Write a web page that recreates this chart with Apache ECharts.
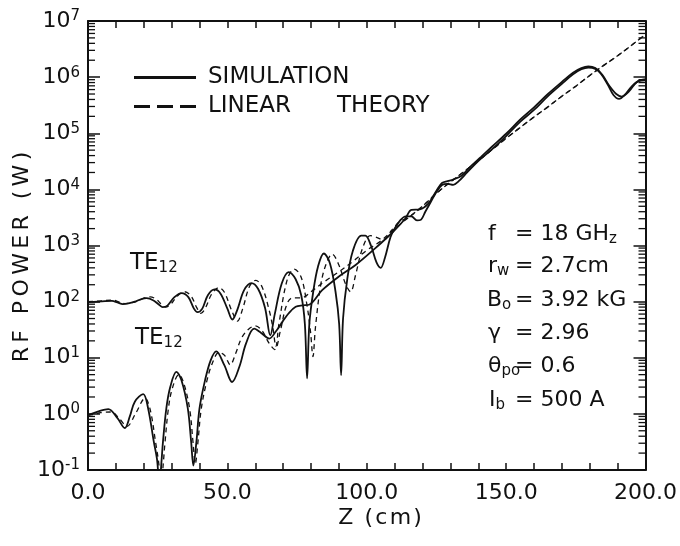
<!DOCTYPE html>
<html>
<head>
<meta charset="utf-8">
<script src="https://cdn.jsdelivr.net/npm/echarts@6/dist/echarts.min.js"></script>
<style>
  html, body { margin: 0; padding: 0; background: #fff; }
  #chart { width: 680px; height: 546px; }
</style>
</head>
<body>
<div id="chart"></div>
<script>
// TE12 launched at ~100 W : simulation
const zSimUpper = [0,2,5,8.6,10.5,12.5,14.5,16.8,19,21,23.5,25.5,26.8,28.5,31,33.6,36,38,39.3,41,43,45.4,47.5,50,51.8,53.5,56,58.6,61,63.5,65.4,67,69.5,72,74.5,76.5,77.8,78.6,79.4,80.8,82.5,84.6,86.8,88.8,90.1,90.8,91.5,93,95,98,99.5,101.5,103.5,105,106.5,108.5,110,112,114,116,118,119.5,121,123,125,127,129,131,133,136,140,145,150,155,160,165,170,174,177,179.5,182,184,186.5,188.5,190.5,192.5,195,197.5,200];
const pSimUpper = [98,99,101,103,97,90,93,100,110,115,105,88,80,85,120,142,120,75,65,75,130,165,140,75,48,70,160,214,170,78,25,60,210,336,250,130,40,4.3,40,150,420,720,480,150,40,4.9,50,250,800,1500,1500,1000,500,400,600,1400,2000,2800,3300,3300,2800,2900,4000,6000,9000,12000,12500,12000,14000,20000,32000,52000,89000,160000,260000,460000,760000,1120000,1380000,1480000,1400000,1150000,730000,480000,410000,480000,680000,850000,880000];

// TE12 launched at ~1 W : simulation
const zSimLower = [0,3.5,7.3,10.5,13.2,15,16.8,19.8,21.5,23.6,24.8,25.6,26.4,26.9,28.1,29.5,31.7,33.5,35.8,37,37.8,38.9,40,42,44,46,48.9,51.7,54.3,56.7,59.6,62,65,67.5,69.8,72,74.5,77,79.3,84,90,96,103,109,113.8,116,119,122,125,127,129,131,134,137,141,145,150,155,160,165,170,174,177,179.5,182,184.5,187,189.5,191.5,194,197,200];
const pSimLower = [0.95,1.1,1.22,0.85,0.56,0.9,1.65,2.25,1.3,0.32,0.15,0.05,0.15,0.32,1.25,3,5.6,4,1.25,0.32,0.12,0.32,1.25,4,9,13,7.4,3.7,6.9,18,33,28,22,30,44,62,81,86,88,160,280,450,890,1670,3000,4300,4400,5500,9500,13000,14000,15000,17500,25000,38000,58000,98000,175000,290000,500000,820000,1200000,1450000,1550000,1450000,1100000,700000,500000,450000,550000,830000,920000];

// linear theory, upper case (until it joins the common growth line)
const zLinUpper = [0,2,4.5,9,11,13.2,15,17.5,20,22.3,24.5,26.5,27.8,29.5,32,34.6,37,39,40.5,42,44.5,47,49,51.5,53.6,55.5,58,60.2,62.5,65,66.3,67.4,68.5,71.5,74,76.5,78.5,79.8,80.7,81.6,83.5,85.5,87.6,90,92.5,94.2,96,98.5,101.3,103.5,106,109,112];
const pLinUpper = [100,101,103,106,99,92,94,101,115,122,110,88,80,88,125,150,125,78,62,75,140,178,145,70,45,75,190,240,180,70,35,16,40,250,380,270,90,30,10.5,35,200,480,700,450,200,150,300,900,1500,1400,1250,1900,2700];

// linear theory, lower case
const zLinLower = [0,2,4.5,8.5,11,14,17,20.5,22.3,24.3,25.4,26.2,27,27.6,28.8,30.2,32.6,34.3,36.5,37.7,38.5,39.4,40.6,42.6,44.6,47,49,51,53,55,57.5,60,62.5,65,67,69,71,73,77,80,85,90,95,100,105,110];
const pLinLower = [0.95,0.97,1.05,1.08,0.85,0.6,1.0,1.9,1.2,0.3,0.13,0.05,0.13,0.3,1.2,2.8,5.0,3.6,1.2,0.3,0.13,0.3,1.2,3.8,8,12.5,11,7.5,12,22,32,37,30,18,14,30,80,115,118,150,230,340,520,820,1200,2000];

// linear theory, common exponential part
const zLinTail = [115,120,125,130,135,140,145,150,155,160,165,170,175,180,185,190,195,200];
const pLinTail = [3160,5000,8500,13500,20900,32400,51300,81300,126000,195000,295000,457000,690000,1070000,1620000,2400000,3700000,5750000];

const xLabels = [0, 50, 100, 150, 200];

// minor log ticks 2..9 x 10^n
const yMinorTicks = [];
for (let d = -1; d <= 6; d++) {
  for (let k = 2; k <= 9; k++) yMinorTicks.push(k * Math.pow(10, d));
}

const FONT = 'DejaVu Sans';
const INK = '#111';
const spaced = (s, sep) => s.split('').join(sep || '\u2009');
const pairs = (z, p) => z.map((v, i) => [v, p[i]]);

const chart = echarts.init(document.getElementById('chart'));

const axisLine = { onZero: false, lineStyle: { color: INK, width: 2 } };
const subRich = { fontSize: 15, lineHeight: 15, padding: [10, 0, 0, 0], fontFamily: FONT, fill: INK };

function label(x, y, text, size) {
  return {
    type: 'text', x: x, y: y, silent: true,
    style: {
      text: text, fontSize: size || 22, lineHeight: 22, fontFamily: FONT, fill: INK,
      verticalAlign: 'middle', rich: { s: subRich }
    }
  };
}

const option = {
  animation: false,
  backgroundColor: '#fff',
  color: [INK],
  grid: { left: 88, right: 32, top: 21, bottom: 76 },
  legend: {
    left: 129, top: 61, orient: 'vertical',
    itemWidth: 62, itemHeight: 3, itemGap: 6,
    selectedMode: false,
    itemStyle: { color: INK },
    formatter: n => (n === 'LINEAR THEORY' ? 'LINEAR\u2003\u2003THEORY' : n),
    textStyle: { fontSize: 23, lineHeight: 23, color: INK, fontFamily: FONT, padding: [0, 0, 0, 7] },
    data: [
      { name: 'SIMULATION', icon: 'path://M0,0h62v3h-62z' },
      { name: 'LINEAR THEORY', icon: 'path://M0,0h16v3h-16z M23,0h16v3h-16z M46,0h16v3h-16z' }
    ]
  },
  xAxis: [
    {
      type: 'value', min: 0, max: 200, interval: 10,
      axisLine: axisLine,
      axisTick: { inside: true, length: 7, lineStyle: { color: INK, width: 1.5 } },
      axisLabel: {
        margin: 12, fontSize: 22, color: INK, fontFamily: FONT,
        formatter: v => xLabels.indexOf(v) >= 0 ? v.toFixed(1) : ''
      },
      splitLine: { show: false }
    },
    {
      type: 'value', min: 0, max: 200, interval: 10, position: 'top',
      axisLine: axisLine,
      axisTick: { inside: true, length: 7, lineStyle: { color: INK, width: 1.5 } },
      axisLabel: { show: false },
      splitLine: { show: false }
    }
  ],
  yAxis: [
    {
      type: 'log', logBase: 10, min: 0.1, max: 1e7, splitNumber: 8,
      axisLine: axisLine,
      axisTick: { inside: true, length: 12, lineStyle: { color: INK, width: 1.5 } },
      axisLabel: {
        margin: 8, color: INK, fontFamily: FONT,
        formatter: v => '{b|10}{s|' + Math.round(Math.log10(v)) + '}',
        rich: {
          b: { fontSize: 22, lineHeight: 22, color: INK, fontFamily: FONT },
          s: { fontSize: 15, lineHeight: 15, padding: [0, 0, 9, 0], color: INK, fontFamily: FONT }
        }
      },
      splitLine: { show: false }
    },
    {
      type: 'log', logBase: 10, min: 0.1, max: 1e7, splitNumber: 8, position: 'right',
      axisLine: axisLine,
      axisTick: { inside: true, length: 12, lineStyle: { color: INK, width: 1.5 } },
      axisLabel: { show: false },
      splitLine: { show: false }
    }
  ],
  graphic: [
    label(130, 263, 'TE{s|12}', 23),
    label(135, 338, 'TE{s|12}', 23),
    label(488, 234, 'f'),
    label(515, 234, '= 18 GH{s|z}'),
    label(488, 266, 'r{s|w}'),
    label(515, 266, '= 2.7cm'),
    label(487, 300, 'B{s|o}'),
    label(515, 300, '= 3.92 kG'),
    label(488, 333, 'γ'),
    label(515, 333, '= 2.96'),
    label(488, 366, 'θ{s|po}'),
    label(515, 366, '= 0.6'),
    label(489, 400, 'I{s|b}'),
    label(515, 400, '= 500 A'),
    {
      type: 'text', x: 22, y: 257, rotation: Math.PI / 2, silent: true,
      style: { text: spaced('RF POWER (W)'), fontSize: 22, fontFamily: FONT, fill: INK, align: 'center', verticalAlign: 'middle' }
    },
    {
      type: 'text', x: 380, y: 518, silent: true,
      style: { text: spaced('Z (cm)', '\u200A'), fontSize: 22, fontFamily: FONT, fill: INK, align: 'center', verticalAlign: 'middle' }
    }
  ],
  series: [
    {
      name: 'SIMULATION', type: 'line', smooth: 0.35, symbol: 'none', clip: true,
      lineStyle: { color: INK, width: 1.8 },
      data: pairs(zSimUpper, pSimUpper)
    },
    {
      name: 'SIMULATION', type: 'line', smooth: 0.35, symbol: 'none', clip: true,
      lineStyle: { color: INK, width: 1.8 },
      data: pairs(zSimLower, pSimLower)
    },
    {
      name: 'LINEAR THEORY', type: 'line', smooth: 0.35, symbol: 'none', clip: true,
      lineStyle: { color: INK, width: 1.3, type: [5, 4] },
      data: pairs(zLinUpper.concat(zLinTail), pLinUpper.concat(pLinTail))
    },
    {
      name: 'LINEAR THEORY', type: 'line', smooth: 0.35, symbol: 'none', clip: true,
      lineStyle: { color: INK, width: 1.3, type: [5, 4] },
      data: pairs(zLinLower.concat(zLinTail), pLinLower.concat(pLinTail))
    },
    {
      // minor ticks of the log axes, left and right frame
      type: 'custom', silent: true,
      data: yMinorTicks.map(v => [0, v]),
      renderItem: function (params, api) {
        const cs = params.coordSys;
        const y = api.coord([0, api.value(1)])[1];
        const st = { stroke: INK, lineWidth: 1.3 };
        return {
          type: 'group',
          children: [
            { type: 'line', shape: { x1: cs.x, y1: y, x2: cs.x + 7, y2: y }, style: st },
            { type: 'line', shape: { x1: cs.x + cs.width - 7, y1: y, x2: cs.x + cs.width, y2: y }, style: st }
          ]
        };
      }
    }
  ]
};

chart.setOption(option);
</script>
</body>
</html>
